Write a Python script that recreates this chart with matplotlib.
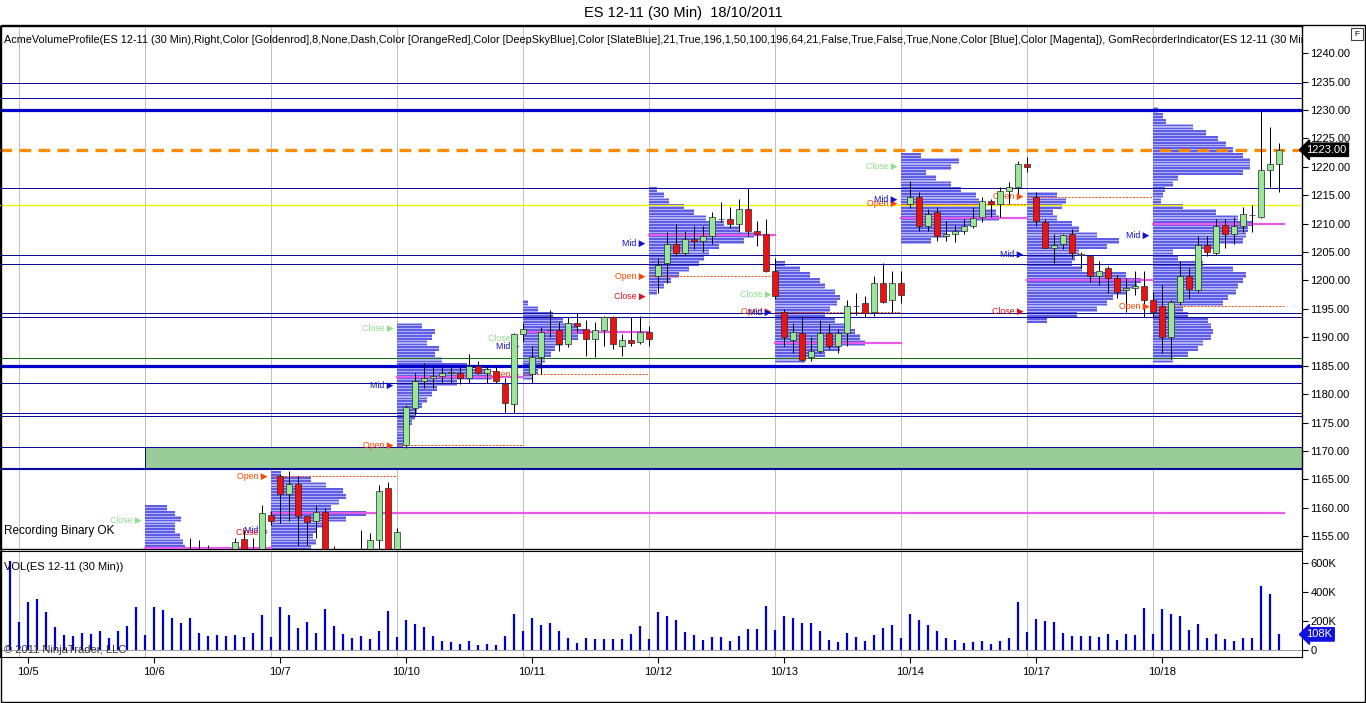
import numpy as np
import matplotlib.pyplot as plt
from matplotlib.patches import Rectangle
from matplotlib.transforms import blended_transform_factory

plt.rcParams['font.family'] = ['Liberation Sans', 'DejaVu Sans']

W, H = 1366, 703
nan = np.nan

# Tage (je 14 Bars a 30 Min), Index 0/1 = Ende vom 10/4
day_names = ['10/5', '10/6', '10/7', '10/10', '10/11', '10/12', '10/13', '10/14', '10/17', '10/18']
day_first = [2, 16, 30, 44, 58, 72, 86, 100, 114, 128]
bars_per_day = 14

# OHLC, nan = unterhalb des sichtbaren Bereichs
opens = [nan] * 20 + [
    1150.5, 1151, 1150.25, 1151.5, 1150, 1150.5, 1154.5, 1151.5, 1152.25, 1158.75,
    1165.5, 1162.5, 1164.25, 1158.5, 1157.75, 1159.25, 1150, 1151.5, 1150.5, 1149.25,
    1151.25, 1154.25, 1163.5, 1150.5,
    1171, 1177.5, 1182.25, 1182.75, 1183.25, 1183.75, 1183.75, 1182.75, 1185, 1183.75,
    1184, 1181.75, 1178.25, 1190.5,
    1183.5, 1186.5, 1191.25, 1191.25, 1188.75, 1192.5, 1191.5, 1189.75, 1191.25, 1193.5,
    1188.5, 1189.5, 1189.25, 1191,
    1200.75, 1203, 1206.5, 1204.75, 1207.25, 1207, 1207.75, 1210.75, 1210.75, 1210,
    1212.5, 1208.75, 1208.25, 1201.75,
    1194.5, 1189.5, 1190.75, 1186.5, 1187.5, 1190.75, 1188.5, 1190.75, 1195.5, 1196,
    1194.5, 1199.5, 1196.5, 1199.5,
    1213.5, 1214.75, 1209.5, 1212, 1207.75, 1208.25, 1208.75, 1209.5, 1211.25, 1214,
    1213.5, 1215.75, 1216.5, 1220.5,
    1214.75, 1210.25, 1205.75, 1206.5, 1208.25, 1204.5, 1204.25, 1200.75, 1202.25, 1200.5,
    1198.25, 1198.75, 1199, 1196.5,
    1195.5, 1190, 1196.25, 1200.75, 1198.25, 1206.25, 1204.75, 1209.75, 1208.25, 1209.5,
    1211.5, 1211.25, 1219.5, 1220.5]
highs = [nan] * 20 + [
    1154.75, 1154.25, 1153.5, 1152.5, 1152.25, 1154.75, 1156, 1154.75, 1160.5, 1159.5,
    1166, 1166.5, 1165.5, 1158.5, 1160.5, 1160, 1153.25, 1152.5, 1152, 1156,
    1155.5, 1164, 1164.5, 1156.5,
    1178, 1183.75, 1185.5, 1184.75, 1184.75, 1184.75, 1184.75, 1187, 1185.75, 1185,
    1184.75, 1182.75, 1190.75, 1192.5,
    1188.5, 1191.75, 1194.75, 1192.75, 1193.5, 1194.25, 1193, 1192.75, 1193.75, 1193.75,
    1190.5, 1193.5, 1193.75, 1192,
    1204, 1208.5, 1210, 1208.75, 1209.5, 1209.5, 1212, 1213.75, 1213, 1214.25,
    1216.25, 1210.5, 1210.75, 1204,
    1195, 1192.5, 1193.75, 1190, 1193, 1192.25, 1191.5, 1196.5, 1197.75, 1197.25,
    1200.75, 1203, 1201.75, 1201.75,
    1217.5, 1215.5, 1212.5, 1213, 1210.5, 1209.75, 1210.75, 1213, 1214.75, 1214.25,
    1216.5, 1217.25, 1221, 1221.75,
    1215.5, 1210.75, 1208.25, 1208.25, 1209, 1205, 1204.5, 1203.5, 1202.5, 1201,
    1200.5, 1201.75, 1201.75, 1198,
    1199.25, 1196.5, 1203.5, 1202.25, 1207.75, 1207.75, 1210.75, 1210.75, 1211.25, 1213,
    1213.25, 1229.75, 1227, 1224.25]
lows = [nan] * 20 + [
    1148, 1147.5, 1149, 1148, 1148.5, 1149.5, 1150.5, 1150.75, 1151.5, 1157,
    1157.25, 1157.75, 1153.5, 1153.5, 1154.75, 1148, 1148.5, 1147.25, 1146.5, 1148.75,
    1150.5, 1152.5, 1145.5, 1149.5,
    1170.5, 1176.25, 1181, 1181, 1182, 1182, 1181.75, 1182, 1183.5, 1182,
    1182, 1176.75, 1176.75, 1189.25,
    1182, 1183.5, 1190, 1187.5, 1188.25, 1191, 1186.75, 1186.5, 1188.5, 1188,
    1186.75, 1188.5, 1188.75, 1188.5,
    1197.75, 1199.5, 1204.25, 1204.5, 1205.5, 1205, 1206.5, 1210.25, 1209.25, 1208.5,
    1207.75, 1206, 1201.5, 1196.75,
    1188.5, 1187.25, 1185.75, 1185.75, 1187.25, 1188, 1187.25, 1188.5, 1194, 1193.5,
    1193.75, 1196, 1194.25, 1196,
    1212.75, 1208.75, 1208.75, 1207, 1207, 1206.75, 1208.25, 1209.25, 1210.25, 1211.25,
    1211.25, 1213.5, 1214.5, 1219,
    1209.5, 1205.75, 1203, 1205.5, 1204, 1202.25, 1199.75, 1199.25, 1197.75, 1197,
    1194.5, 1197.5, 1193.5, 1193.5,
    1187.25, 1186.25, 1195.75, 1197, 1198, 1204.25, 1204.5, 1205.75, 1206.5, 1208.5,
    1208.5, 1211, 1216.5, 1215.5]
closes = [nan] * 20 + [
    1151, 1150.25, 1151.5, 1150, 1150.5, 1154, 1151.5, 1152.5, 1159, 1157.75,
    1162.5, 1164.25, 1158.5, 1157.5, 1159.25, 1150, 1151.5, 1150.5, 1149.25, 1151.25,
    1154.25, 1163, 1150.5, 1155.75,
    1177.75, 1182.25, 1182.75, 1183.25, 1183.75, 1183.75, 1182.75, 1185, 1183.75, 1184.5,
    1182.25, 1178.5, 1190.5, 1191.5,
    1186.5, 1191, 1191.25, 1188.75, 1192.5, 1192, 1189.75, 1191.25, 1193.5, 1188.75,
    1189.5, 1189, 1191, 1189.75,
    1202.75, 1206.5, 1204.75, 1207.25, 1207, 1207.75, 1211.25, 1210.75, 1210, 1212.5,
    1208.75, 1208.25, 1201.75, 1197.25,
    1190, 1191, 1186, 1187.5, 1190.75, 1188.5, 1190.75, 1195.5, 1195.5, 1194.25,
    1199.5, 1196.25, 1199.5, 1197.5,
    1214.75, 1209.5, 1211.75, 1207.75, 1208.25, 1208.75, 1209.5, 1211, 1214, 1213.5,
    1215.75, 1216.5, 1220.5, 1220,
    1210.5, 1205.75, 1206.25, 1208, 1204.75, 1204.5, 1200.75, 1201.75, 1200.5, 1198,
    1198.75, 1199, 1196.5, 1194.5,
    1190, 1196.25, 1200.75, 1198.5, 1206.25, 1205, 1209.5, 1208.25, 1209.5, 1211.75,
    1211.5, 1219.5, 1220.5, 1223]

# Volumen in Tausend
volume = [618, 196, 334, 353, 265, 161, 104, 97, 120, 111, 134, 85, 134, 166, 298, 104,
          298, 277, 224, 189, 224, 120, 97, 104, 97, 104, 90, 120, 242, 90,
          298, 242, 152, 196, 120, 284, 166, 111, 83, 97, 76, 134, 270, 90,
          208, 180, 161, 97, 65, 55, 42, 62, 35, 42, 35, 97, 249, 134,
          219, 173, 187, 131, 83, 48, 83, 76, 76, 76, 76, 111, 166, 76,
          263, 235, 208, 127, 104, 69, 90, 90, 62, 97, 145, 145, 304, 138,
          235, 221, 187, 187, 131, 69, 55, 118, 90, 62, 104, 152, 173, 83,
          249, 208, 173, 131, 83, 69, 48, 55, 62, 42, 62, 83, 332, 125,
          215, 201, 194, 118, 97, 97, 97, 90, 111, 69, 111, 104, 290, 111,
          284, 249, 235, 138, 180, 83, 111, 76, 62, 83, 83, 443, 390, 108]

# Volumenprofile je Tag: (oberster Preis, relative Breite je 1 Punkt abwaerts)
profiles = {
    '10/6': (1160, [22, 30, 36, 30, 30, 35, 38, 40]),
    '10/7': (1166, [10, 40, 55, 72, 75, 68, 60, 95, 75, 55, 45, 42, 45, 40]),
    '10/10': (1192, [25, 38, 35, 30, 42, 38, 45, 70, 90, 95, 60, 40, 35, 30, 25, 20,
                     18, 15, 12, 10, 8, 6]),
    '10/11': (1196, [5, 15, 30, 40, 55, 63, 55, 40, 32, 28, 22, 18, 15, 10]),
    '10/12': (1216, [8, 15, 20, 35, 45, 57, 75, 90, 105, 95, 70, 60, 55, 50, 40, 30,
                     22, 15, 8]),
    '10/13': (1203, [10, 25, 35, 45, 50, 60, 65, 62, 55, 50, 60, 72, 80, 85, 90, 65,
                     50, 30]),
    '10/14': (1222, [20, 58, 50, 25, 35, 50, 60, 75, 78, 80, 95, 98, 72, 65, 45, 30]),
    '10/17': (1215, [30, 39, 35, 26, 30, 45, 52, 70, 92, 80, 52, 48, 45, 55, 99, 114,
                     110, 100, 86, 80, 70, 50, 20]),
    '10/18': (1230, [5, 10, 13, 40, 53, 65, 73, 80, 90, 97, 97, 90, 25, 20, 12, 10, 8,
                     30, 63, 85, 99, 95, 93, 90, 60, 20, 25, 50, 80, 93, 90, 85, 83, 75,
                     70, 30, 35, 55, 58, 60, 58, 50, 45, 35, 20]),
}
naked_poc_days = ['10/7', '10/18']

# welche Marken (Open/Mid/Close) pro Tag im Bild stehen
day_marks = {
    '10/6': ['Close'], '10/7': ['Open', 'Mid', 'Close'], '10/10': ['Open', 'Mid', 'Close'],
    '10/11': ['Open', 'Mid', 'Close'], '10/12': ['Open', 'Mid', 'Close'],
    '10/13': ['Open', 'Mid', 'Close'], '10/14': ['Open', 'Mid', 'Close'],
    '10/17': ['Open', 'Mid', 'Close'], '10/18': ['Open', 'Mid'],
}

# horizontale Linien
hlines_thin = [1234.75, 1232.1, 1216.2, 1204.4, 1202.85, 1194.2, 1193.5, 1181.95,
               1176.75, 1176.1, 1170.65]
hlines_thick = [1230.0, 1185.0]
green_line = 1186.3
yellow_line = 1213.2
last_price = 1223.0
zone_low, zone_high = 1166.75, 1170.65

# ---------------------------------------------------------------
fig = plt.figure(figsize=(W / 100, H / 100), dpi=100)
fig.patch.set_facecolor('white')


def fx(px):
    return px / W


def fy(py):
    return 1 - py / H


ax = fig.add_axes([0, fy(549), fx(1302), (549 - 26) / H])
axv = fig.add_axes([0, fy(657), fx(1302), (657 - 551) / H])

xlo, xhi = -10 / 9, (1302 - 10) / 9
ax.set_xlim(xlo, xhi)
axv.set_xlim(xlo, xhi)
ax.set_ylim(1152.74, 1244.78)
axv.set_ylim(-48.4, 685)

px_lw = 0.72  # 1 Pixel in Punkt

# Tagestrenner
for f in day_first:
    for a in (ax, axv):
        a.axvline(f - 1, color='#c0c0c0', lw=px_lw, zorder=0)

# gruene Zone
ax.add_patch(Rectangle((15, zone_low), xhi - 15, zone_high - zone_low,
                       facecolor='#99cc99', edgecolor='none', zorder=1))
ax.plot([15, 15], [zone_low, zone_high], color='#0a0a9a', lw=px_lw, zorder=3)

# Volumenprofile
for name, (top, widths) in profiles.items():
    g = day_first[day_names.index(name)] - 1
    levels = top - np.arange(len(widths))
    w = np.array(widths) / 9.0
    ax.barh(levels, w, left=g, height=1.0, color='#a4a4f2', alpha=0.85,
            lw=0, zorder=2)
    ax.barh(levels + 0.25, w, left=g, height=0.3, color='#4848e2', alpha=0.8,
            lw=0, zorder=2)
    ax.barh(levels - 0.25, w, left=g, height=0.3, color='#4848e2', alpha=0.8,
            lw=0, zorder=2)
    poc = levels[int(np.argmax(widths))]
    end = xhi - 2.05 if name in naked_poc_days else g + bars_per_day
    ax.plot([g, end], [poc, poc], color='#e85ae8', lw=1.6, zorder=3)

# Linien
for p in hlines_thin:
    ax.axhline(p, color='#0a0a9a', lw=px_lw, zorder=3)
ax.axhline(zone_low, color='#0a0a9a', lw=1.5, zorder=3)
for p in hlines_thick:
    ax.axhline(p, color='#0000cc', lw=2.3, zorder=3)
ax.axhline(green_line, color='#107010', lw=px_lw, zorder=3)
ax.axhline(yellow_line, color='#f0f000', lw=1.0, zorder=3)
ax.axhline(last_price, color='#ff8c00', lw=2.4, ls=(0, (3.5, 2.2)), zorder=3)

# Open-Linien, Marken
o = np.array(opens, dtype=float)
h = np.array(highs, dtype=float)
l = np.array(lows, dtype=float)
c = np.array(closes, dtype=float)
mark_col = {'Open': '#ff4500', 'Mid': '#1010d0'}
for name, marks in day_marks.items():
    k = day_names.index(name)
    a, b = day_first[k], day_first[k] + bars_per_day
    g = a - 1
    d_open, d_close = o[a], c[b - 1]
    d_mid = (np.nanmax(h[a:b]) + np.nanmin(l[a:b])) / 2
    if 'Open' in marks:
        end = xhi - 2.05 if name == '10/18' else g + bars_per_day
        ax.plot([g, end], [d_open, d_open], color='#ff4500', lw=0.7,
                ls=(0, (2, 1.5)), zorder=3)
    for m in marks:
        price = {'Open': d_open, 'Mid': d_mid, 'Close': d_close}[m]
        if m == 'Close':
            col = '#8fe08f' if d_close >= d_open or np.isnan(d_open) else '#e01020'
        else:
            col = mark_col[m]
        ax.text(g - 0.35, price, m + ' \u25b6', ha='right', va='center',
                fontsize=6.3, color=col, zorder=6)

# Kerzen
idx = np.arange(len(o))
ok = ~np.isnan(o)
ax.vlines(idx[ok], l[ok], h[ok], color='black', lw=px_lw, zorder=5)
up = ok & (c >= o)
dn = ok & (c < o)
body_w = 0.67
ax.bar(idx[up], np.maximum(c[up] - o[up], 0.08), bottom=o[up], width=body_w,
       color='#98e698', edgecolor='#2a2a2a', lw=0.5, zorder=6)
ax.bar(idx[dn], o[dn] - c[dn], bottom=c[dn], width=body_w,
       color='#ee1111', edgecolor='#2a2a2a', lw=0.5, zorder=6)

# Preisachse rechts
ax.yaxis.tick_right()
ax.set_yticks(np.arange(1155, 1241, 5))
ax.set_yticklabels(['%.2f' % v for v in np.arange(1155, 1241, 5)], fontsize=8)
ax.tick_params(axis='y', length=4, width=0.8, pad=2)
ax.set_xticks([])
for s in ax.spines.values():
    s.set_linewidth(1.0)

tr = blended_transform_factory(ax.transAxes, ax.transData)
ax.text(1.0035, last_price, '1223.00', transform=tr, ha='left', va='center',
        fontsize=8, color='white', zorder=10, clip_on=False,
        bbox=dict(boxstyle='larrow,pad=0.15', fc='black', ec='black'))

# Volumen
axv.vlines(idx, 0, volume, color='#0000cc', lw=1.6, zorder=3)
axv.axhline(0, color='#a0a0a0', lw=px_lw, zorder=1)
axv.yaxis.tick_right()
axv.set_yticks([0, 200, 400, 600])
axv.set_yticklabels(['0', '200K', '400K', '600K'], fontsize=8)
axv.tick_params(axis='y', length=4, width=0.8, pad=2)
axv.set_xticks(day_first)
axv.set_xticklabels(day_names, fontsize=8)
axv.tick_params(axis='x', length=4, width=0.8, pad=3)
trv = blended_transform_factory(axv.transAxes, axv.transData)
axv.text(1.0035, volume[-1], '108K', transform=trv, ha='left', va='center',
         fontsize=8, color='white', zorder=10, clip_on=False,
         bbox=dict(boxstyle='larrow,pad=0.15', fc='#1010e0', ec='#1010e0'))

# Texte
fig.text(0.5, fy(13), 'ES 12-11 (30 Min)  18/10/2011', ha='center', va='center',
         fontsize=10.5)
ax.text(4 / 1302, 1 - 9 / 523,
        'AcmeVolumeProfile(ES 12-11 (30 Min),Right,Color [Goldenrod],8,None,Dash,'
        'Color [OrangeRed],Color [DeepSkyBlue],Color [SlateBlue],21,True,196,1,50,100,'
        '196,64,21,False,True,False,True,None,Color [Blue],Color [Magenta]), '
        'GomRecorderIndicator(ES 12-11 (30 Min))',
        transform=ax.transAxes, ha='left', va='top', fontsize=7.85, clip_on=True,
        zorder=8)
ax.text(4 / 1302, (549 - 531) / 523, 'Recording Binary OK', transform=ax.transAxes,
        ha='left', va='center', fontsize=8.5, zorder=8)
axv.text(4 / 1302, 1 - 16 / 106, 'VOL(ES 12-11 (30 Min))', transform=axv.transAxes,
         ha='left', va='center', fontsize=8, zorder=8)
axv.text(4 / 1302, (657 - 650) / 106, '\u00a9 2011 NinjaTrader, LLC',
         transform=axv.transAxes, ha='left', va='center', fontsize=8,
         color='#333333', zorder=8)

# Rahmen und F-Knopf
fig.add_artist(Rectangle((fx(0.5), fy(702)), fx(1364.5), fy(25) - fy(702),
                         transform=fig.transFigure, fill=False, ec='black', lw=1))
fig.add_artist(Rectangle((fx(1351), fy(40)), fx(12), fy(28) - fy(40),
                         transform=fig.transFigure, fill=False, ec='#404040', lw=0.8))
fig.text(fx(1357), fy(34), 'F', ha='center', va='center', fontsize=6)

fig.savefig('out.png', dpi=100)
